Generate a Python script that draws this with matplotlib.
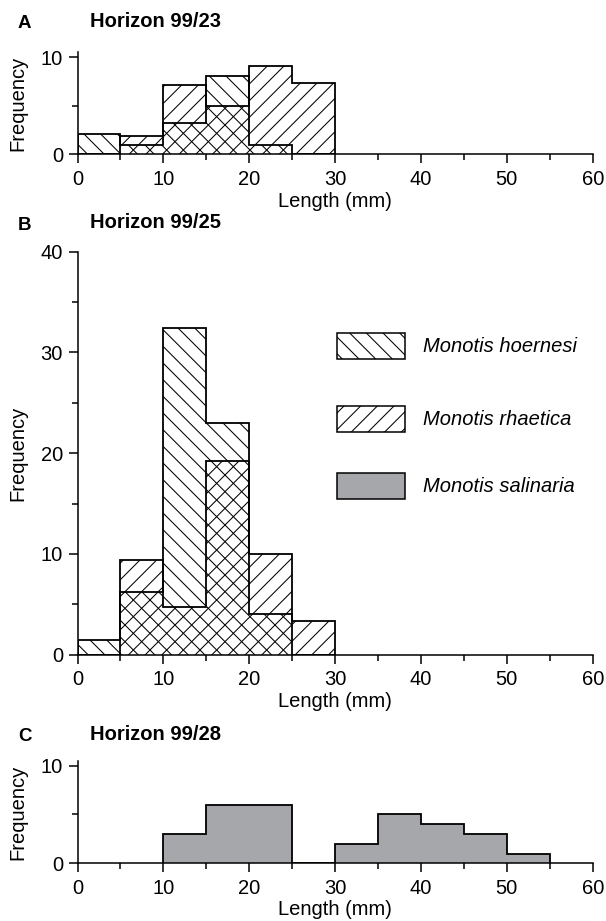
import matplotlib
matplotlib.use('Agg')
import matplotlib.pyplot as plt
from matplotlib.patches import Rectangle
from matplotlib.ticker import MultipleLocator

plt.rcParams['font.family'] = ['Liberation Sans', 'DejaVu Sans']
plt.rcParams['hatch.linewidth'] = 0.75
plt.rcParams['hatch.color'] = 'black'

# ---- data ----
bin_edges_ab = [0, 5, 10, 15, 20, 25, 30]
a_hoernesi = [2.1, 1.0, 3.2, 8.1, 1.0, 0]
a_rhaetica = [0, 1.9, 7.1, 5.0, 9.1, 7.4]
b_hoernesi = [1.5, 6.2, 32.4, 23.0, 4.0, 0]
b_rhaetica = [0, 9.4, 4.7, 19.2, 10.0, 3.3]
bin_edges_c = [10, 15, 20, 25, 30, 35, 40, 45, 50, 55]
c_salinaria = [3, 6, 6, 0, 2, 5, 4, 3, 1]
species = ['Monotis hoernesi', 'Monotis rhaetica', 'Monotis salinaria']
panel_letters = ['A', 'B', 'C']
panel_titles = ['Horizon 99/23', 'Horizon 99/25', 'Horizon 99/28']
x_ticks = [0, 10, 20, 30, 40, 50, 60]

HATCH_H = '\\\\'
HATCH_R = '//'
GREY = '#a6a7aa'
W, H = 606, 921

fig = plt.figure(figsize=(W / 100, H / 100), dpi=100)

left = 77.5 / W
width = 515.2 / W


def px_axes(y0_px, ytop_px):
    return fig.add_axes([left, 1 - y0_px / H, width, (y0_px - ytop_px) / H])


axA = px_axes(154.5, 52.4)
axB = px_axes(654.7, 251.7)
axC = px_axes(863.3, 760.8)


def style(ax, ymax, yticks):
    ax.spines['top'].set_visible(False)
    ax.spines['right'].set_visible(False)
    for s in ('left', 'bottom'):
        ax.spines[s].set_linewidth(1.1)
    ax.set_xlim(0, 60)
    ax.set_ylim(0, ymax)
    ax.set_xticks(x_ticks)
    ax.set_yticks(yticks)
    ax.xaxis.set_minor_locator(MultipleLocator(5))
    ax.yaxis.set_minor_locator(MultipleLocator(5))
    ax.tick_params(which='major', direction='out', length=6.5, width=1.1,
                   labelsize=14.5, pad=4.5)
    ax.tick_params(which='minor', direction='out', length=4, width=1.1)
    ax.tick_params(axis='y', which='major', pad=4)
    ax.set_xlabel('Length (mm)', fontsize=14.5, labelpad=2)
    ax.set_ylabel('Frequency', fontsize=14.5)
    ax.yaxis.set_label_coords(-0.097, 0.5)


def draw_pair(ax, hoer, rhae):
    ax.stairs(hoer, bin_edges_ab, fill=True, facecolor='white',
              edgecolor='black', hatch=HATCH_H, linewidth=1.3, zorder=2)
    ax.stairs(rhae, bin_edges_ab, fill=True, facecolor='none',
              edgecolor='black', hatch=HATCH_R, linewidth=1.3, zorder=3)


draw_pair(axA, a_hoernesi, a_rhaetica)
style(axA, 10.5, [0, 10])

draw_pair(axB, b_hoernesi, b_rhaetica)
style(axB, 40, [0, 10, 20, 30, 40])

axC.stairs(c_salinaria, bin_edges_c, fill=True, facecolor=GREY,
           edgecolor='black', linewidth=1.3, zorder=2)
style(axC, 10.5, [0, 10])

# legend in panel B (drawn manually)
leg_y = [29.35, 22.1, 15.45]
leg_style = [dict(facecolor='white', hatch=HATCH_H),
             dict(facecolor='white', hatch=HATCH_R),
             dict(facecolor=GREY)]
for name, y, st in zip(species, leg_y, leg_style):
    axB.add_patch(Rectangle((30.17, y), 7.96, 2.58, edgecolor='black',
                            linewidth=1.1, zorder=4, **st))
    axB.text(40.2, y + 1.29, name, fontsize=14.5, style='italic',
             va='center', ha='left')

# panel letters and titles
letter_y = [23, 226, 736]
title_y = [21.5, 222, 734]
for letter, title, ly, ty in zip(panel_letters, panel_titles, letter_y, title_y):
    fig.text(18 / W, 1 - ly / H, letter, fontsize=13.5, fontweight='bold',
             ha='left', va='center')
    fig.text(90 / W, 1 - ty / H, title, fontsize=14.5, fontweight='bold',
             ha='left', va='center')

fig.savefig('out.png', dpi=100)
